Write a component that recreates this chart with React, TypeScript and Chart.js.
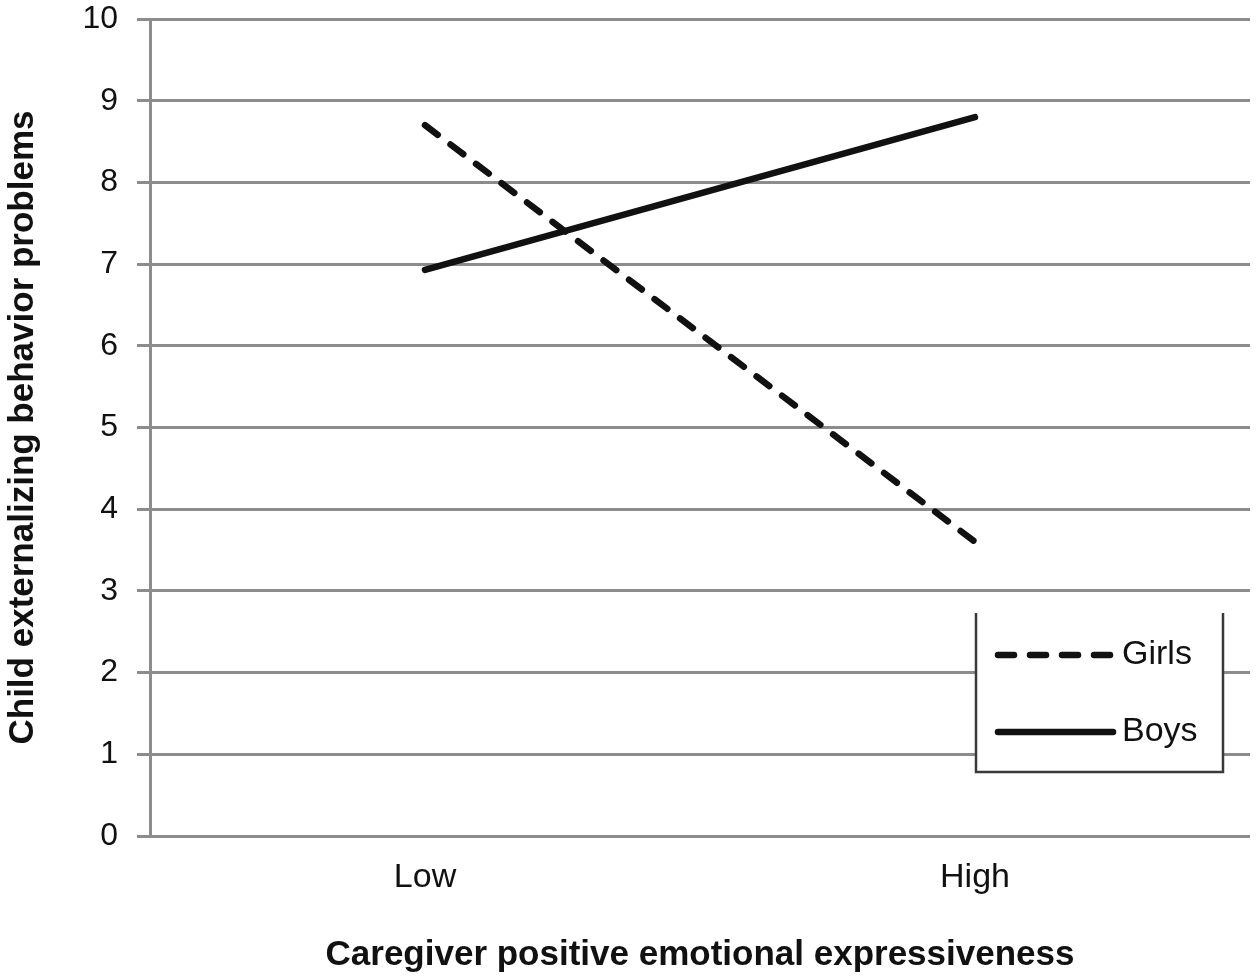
import React, { useEffect, useRef } from "react";
import { Chart, registerables } from "chart.js";

Chart.register(...registerables);

const categories = ["Low", "High"];
const girlsValues = [8.7, 3.6];
const boysValues = [6.93, 8.8];
const yTicks = [0, 1, 2, 3, 4, 5, 6, 7, 8, 9, 10];
const seriesNames = ["Girls", "Boys"];
const yTitle = "Child externalizing behavior problems";
const xTitle = "Caregiver positive emotional expressiveness";

const FONT = "'Liberation Sans', Arial, Helvetica, sans-serif";
const GRID = "#8c8c8c";
const INK = "#111111";

const legendBoxPlugin = {
  id: "legendBox",
  afterDatasetsDraw(chart: any) {
    const { ctx, chartArea } = chart;
    const left = chartArea.right - 274;
    const right = chartArea.right - 27;
    const top = chartArea.bottom - 223;
    const bottom = chartArea.bottom - 64;
    ctx.save();
    ctx.fillStyle = "#ffffff";
    ctx.fillRect(left, top, right - left, bottom - top);
    ctx.strokeStyle = "#3a3a3a";
    ctx.lineWidth = 2.5;
    ctx.beginPath();
    ctx.moveTo(left, top);
    ctx.lineTo(left, bottom);
    ctx.lineTo(right, bottom);
    ctx.lineTo(right, top);
    ctx.stroke();

    const rows = [
      { name: seriesNames[0], dash: [16, 16], y: top + 42 },
      { name: seriesNames[1], dash: [], y: top + 119 },
    ];
    rows.forEach((r) => {
      ctx.strokeStyle = INK;
      ctx.lineWidth = 6.5;
      ctx.lineCap = "round";
      ctx.setLineDash(r.dash);
      ctx.beginPath();
      ctx.moveTo(left + 22, r.y);
      ctx.lineTo(left + 137, r.y);
      ctx.stroke();
      ctx.setLineDash([]);
      ctx.fillStyle = INK;
      ctx.font = `34px ${FONT}`;
      ctx.textAlign = "left";
      ctx.textBaseline = "middle";
      ctx.fillText(r.name, left + 146, r.y);
    });
    ctx.restore();
  },
};

export default function App() {
  const ref = useRef<HTMLCanvasElement | null>(null);

  useEffect(() => {
    if (!ref.current) return;
    const chart = new Chart(ref.current, {
      type: "line",
      data: {
        labels: categories,
        datasets: [
          {
            label: seriesNames[0],
            data: girlsValues,
            borderColor: INK,
            borderWidth: 6.5,
            borderDash: [16, 16],
            borderCapStyle: "round",
            pointRadius: 0,
            tension: 0,
          },
          {
            label: seriesNames[1],
            data: boysValues,
            borderColor: INK,
            borderWidth: 6.5,
            borderCapStyle: "round",
            pointRadius: 0,
            tension: 0,
          },
        ],
      },
      options: {
        animation: false,
        responsive: true,
        maintainAspectRatio: false,
        layout: { padding: { left: 0, top: 19, right: 10, bottom: 0 } },
        plugins: {
          legend: { display: false },
          tooltip: { enabled: false },
        },
        scales: {
          x: {
            offset: true,
            grid: { display: false, drawTicks: false },
            border: { display: false },
            ticks: {
              color: INK,
              font: { family: FONT, size: 34 },
              padding: 21,
            },
            title: {
              display: true,
              text: xTitle,
              color: INK,
              font: { family: FONT, size: 35, weight: "bold" },
              padding: { top: 0, bottom: 4 },
            },
            afterFit: (s: any) => {
              s.height = 144;
              s.paddingLeft = 0;
              s.paddingRight = 0;
            },
          },
          y: {
            min: 0,
            max: 10,
            afterBuildTicks: (s: any) => {
              s.ticks = yTicks.map((v) => ({ value: v }));
            },
            grid: {
              color: GRID,
              lineWidth: 3,
              drawTicks: true,
              tickLength: 13,
              tickColor: GRID,
            },
            border: { display: true, color: GRID, width: 3 },
            ticks: {
              color: INK,
              font: { family: FONT, size: 32 },
              padding: 19,
            },
            title: {
              display: true,
              text: yTitle,
              color: INK,
              font: { family: FONT, size: 35, weight: "bold" },
              padding: { top: 2, bottom: 0 },
            },
            afterFit: (s: any) => {
              s.width = 150;
              s.paddingTop = 0;
              s.paddingBottom = 0;
            },
          },
        },
      },
      plugins: [legendBoxPlugin],
    });
    return () => chart.destroy();
  }, []);

  return (
    <div style={{ position: "absolute", left: 0, top: 0, width: 1260, height: 980, background: "#fff" }}>
      <canvas ref={ref} />
    </div>
  );
}
